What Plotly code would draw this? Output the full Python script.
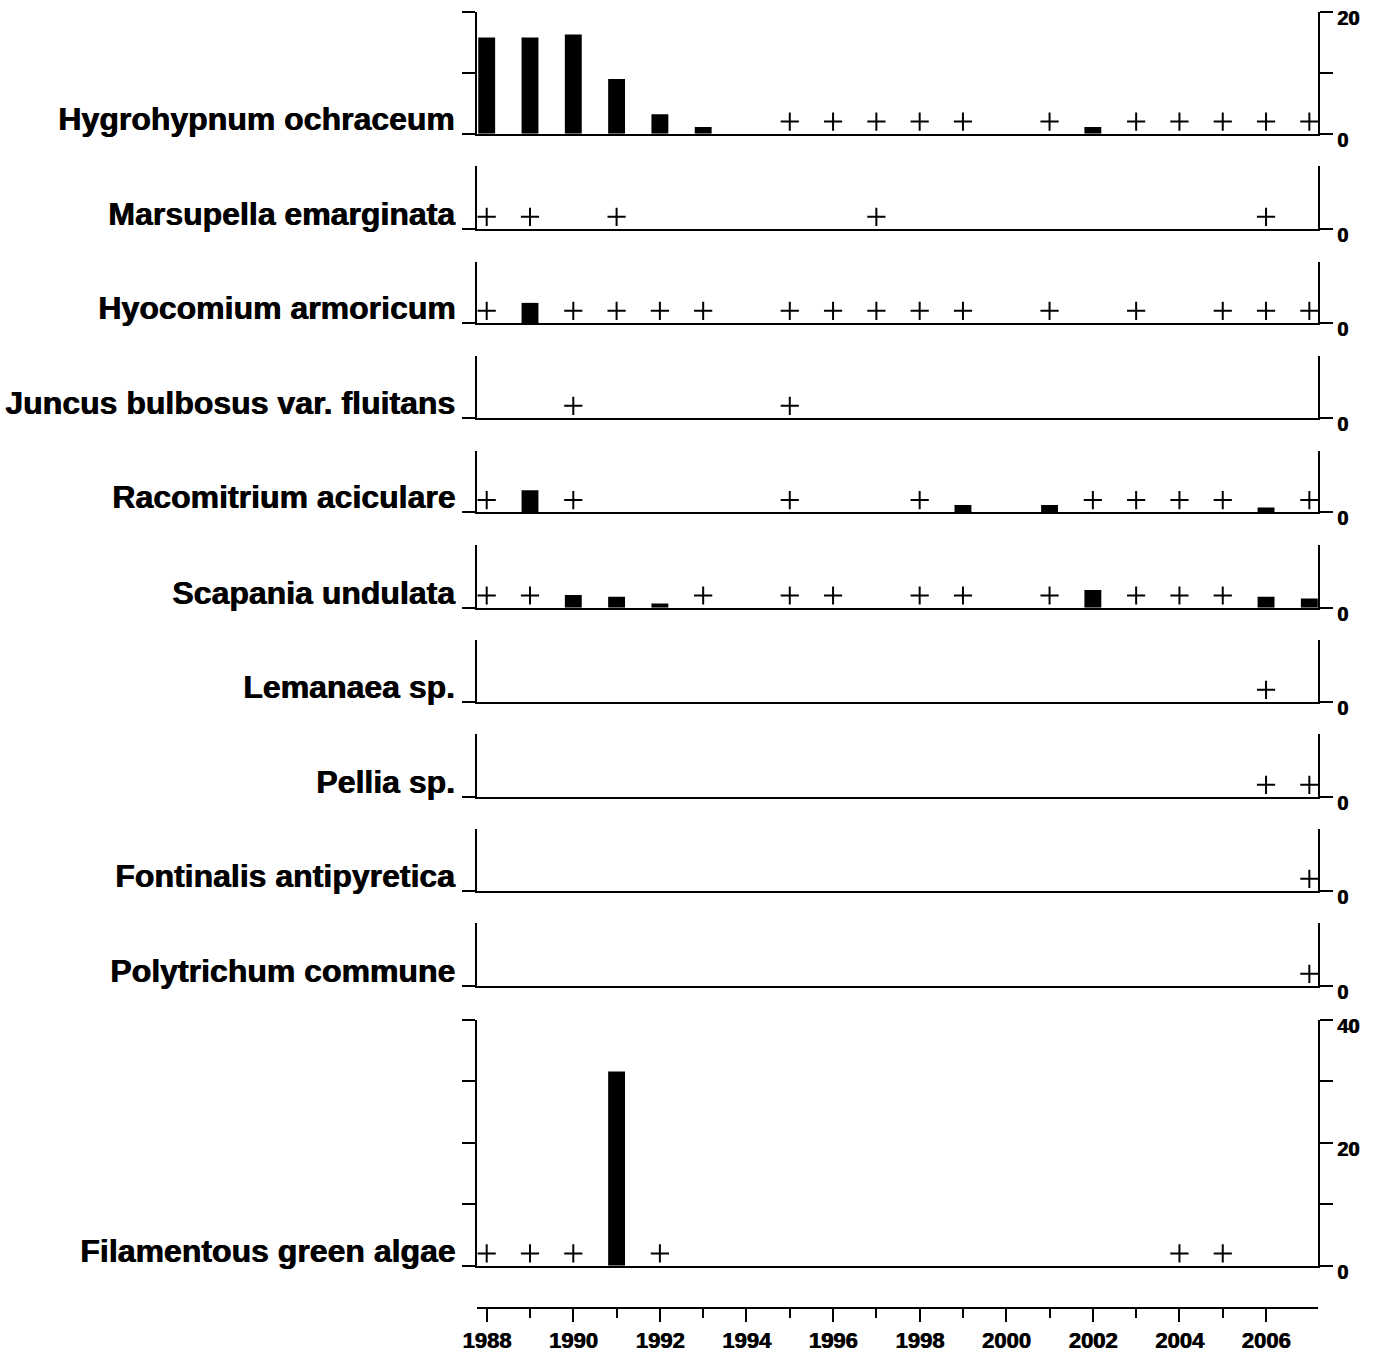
import plotly.graph_objects as go

# ---------------- data ----------------
species = [
    "Hygrohypnum ochraceum",
    "Marsupella emarginata",
    "Hyocomium armoricum",
    "Juncus bulbosus var. fluitans",
    "Racomitrium aciculare",
    "Scapania undulata",
    "Lemanaea sp.",
    "Pellia sp.",
    "Fontinalis antipyretica",
    "Polytrichum commune",
    "Filamentous green algae",
]

hygro_bar_years = [1988, 1989, 1990, 1991, 1992, 1993, 2002]
hygro_bar_vals = [15.8, 15.8, 16.3, 9.0, 3.2, 1.1, 1.1]
hygro_plus = [1995, 1996, 1997, 1998, 1999, 2001, 2003, 2004, 2005, 2006, 2007]

marsu_bar_years = []
marsu_bar_vals = []
marsu_plus = [1988, 1989, 1991, 1997, 2006]

hyoco_bar_years = [1989]
hyoco_bar_vals = [3.3]
hyoco_plus = [1988, 1990, 1991, 1992, 1993, 1995, 1996, 1997, 1998, 1999, 2001, 2003, 2005, 2006, 2007]

juncus_bar_years = []
juncus_bar_vals = []
juncus_plus = [1990, 1995]

racom_bar_years = [1989, 1999, 2001, 2006]
racom_bar_vals = [3.6, 1.2, 1.2, 0.8]
racom_plus = [1988, 1990, 1995, 1998, 2002, 2003, 2004, 2005, 2007]

scap_bar_years = [1990, 1991, 1992, 2002, 2006, 2007]
scap_bar_vals = [2.1, 1.8, 0.7, 2.9, 1.8, 1.5]
scap_plus = [1988, 1989, 1993, 1995, 1996, 1998, 1999, 2001, 2003, 2004, 2005]

leman_bar_years = []
leman_bar_vals = []
leman_plus = [2006]

pellia_bar_years = []
pellia_bar_vals = []
pellia_plus = [2006, 2007]

fontin_bar_years = []
fontin_bar_vals = []
fontin_plus = [2007]

polyt_bar_years = []
polyt_bar_vals = []
polyt_plus = [2007]

algae_bar_years = [1991]
algae_bar_vals = [31.6]
algae_plus = [1988, 1989, 1990, 1992, 2004, 2005]

year_ticks = [1988, 1990, 1992, 1994, 1996, 1998, 2000, 2002, 2004, 2006]
year_minor = [1989, 1991, 1993, 1995, 1997, 1999, 2001, 2003, 2005]

bar_years = [hygro_bar_years, marsu_bar_years, hyoco_bar_years, juncus_bar_years,
             racom_bar_years, scap_bar_years, leman_bar_years, pellia_bar_years,
             fontin_bar_years, polyt_bar_years, algae_bar_years]
bar_vals = [hygro_bar_vals, marsu_bar_vals, hyoco_bar_vals, juncus_bar_vals,
            racom_bar_vals, scap_bar_vals, leman_bar_vals, pellia_bar_vals,
            fontin_bar_vals, polyt_bar_vals, algae_bar_vals]
plus_years = [hygro_plus, marsu_plus, hyoco_plus, juncus_plus, racom_plus, scap_plus,
              leman_plus, pellia_plus, fontin_plus, polyt_plus, algae_plus]

# ---------------- layout geometry ----------------
W, H = 1380, 1353
X0, X1 = 477, 1318
XR = [1987.776, 2007.2]
PLUS_LEVEL = 2.0  # level at which presence "+" symbols are drawn
panels_px = [(12, 133.7), (166, 229), (262, 323), (356, 418), (451, 512.3),
             (545, 607.7), (640, 702), (734, 797), (829, 891), (923, 986),
             (1020, 1265.7)]

FONT = "Liberation Sans, Arial, sans-serif"
HEAVY = "0.8px 0 0 #000"


def py(p):
    return 1 - p / H


fig = go.Figure()
layout = dict(
    width=W, height=H,
    margin=dict(l=0, r=0, t=0, b=0, pad=0, autoexpand=False),
    paper_bgcolor="white", plot_bgcolor="white",
    showlegend=False,
    font=dict(family=FONT, color="black"),
)
annotations = []

for i, name in enumerate(species):
    n = i + 1
    xs = "x" if n == 1 else f"x{n}"
    ys = "y" if n == 1 else f"y{n}"
    xk = "xaxis" if n == 1 else f"xaxis{n}"
    yk = "yaxis" if n == 1 else f"yaxis{n}"
    top, base = panels_px[i]

    if i == 0:
        yr = [0, 20]
        tv, tt = [0, 10, 20], ["0", "", "20"]
    elif i == len(species) - 1:
        yr = [0, 40]
        tv, tt = [0, 10, 20, 30, 40], ["0", "", "20", "", "40"]
    else:
        yr = [0, (base - top) / 6.1]
        tv, tt = [0], ["0"]

    fig.add_trace(go.Bar(
        x=bar_years[i], y=bar_vals[i], width=0.39,
        marker=dict(color="black", line=dict(width=0)),
        xaxis=xs, yaxis=ys, hoverinfo="x+y",
    ))
    fig.add_trace(go.Scatter(
        x=plus_years[i], y=[PLUS_LEVEL] * len(plus_years[i]), mode="markers",
        marker=dict(symbol="cross-thin", size=13, color="black",
                    line=dict(width=2, color="black")),
        xaxis=xs, yaxis=ys, hoverinfo="x",
    ))

    layout[xk] = dict(
        domain=[X0 / W, X1 / W], range=XR, anchor=ys,
        showline=True, linecolor="black", linewidth=2,
        ticks="", showticklabels=False, showgrid=False, zeroline=False,
        fixedrange=True, automargin=False,
    )
    layout[yk] = dict(
        domain=[py(base), py(top)], range=yr, anchor=xs, side="right",
        showline=True, linecolor="black", linewidth=2, mirror="ticks",
        ticks="outside", ticklen=13, tickwidth=2, tickcolor="black",
        tickmode="array", tickvals=tv, ticktext=tt,
        tickfont=dict(family=FONT, size=20, color="black", weight="bold",
                      shadow=HEAVY),
        ticklabelshift=6, ticklabeloverflow="allow",
        showgrid=False, zeroline=False, fixedrange=True, automargin=False,
    )
    annotations.append(dict(
        text=name, xref="paper", yref="paper",
        x=457 / W, y=py(base - 15), xanchor="right", yanchor="middle",
        showarrow=False,
        font=dict(family=FONT, size=32, color="black", weight="bold",
                  shadow=HEAVY),
    ))

# bottom year axis
nb = len(species) + 1
fig.add_trace(go.Scatter(x=[1990], y=[0], mode="markers", marker=dict(opacity=0),
                         xaxis=f"x{nb}", yaxis=f"y{nb}", hoverinfo="skip"))
layout[f"xaxis{nb}"] = dict(
    domain=[X0 / W, X1 / W], range=XR, anchor=f"y{nb}",
    showline=True, linecolor="black", linewidth=2,
    ticks="outside", ticklen=13, tickwidth=2, tickcolor="black",
    tickmode="array", tickvals=year_ticks, ticktext=[str(y) for y in year_ticks],
    minor=dict(tickmode="array", tickvals=year_minor, ticks="outside",
               ticklen=9, tickwidth=2, tickcolor="black", showgrid=False),
    tickfont=dict(family=FONT, size=22, color="black", weight="bold",
                  shadow=HEAVY),
    showgrid=False, zeroline=False, fixedrange=True, automargin=False,
)
layout[f"yaxis{nb}"] = dict(
    domain=[py(1307), py(1300)], range=[0, 1], anchor=f"x{nb}", visible=False,
    fixedrange=True,
)
layout["annotations"] = annotations
fig.update_layout(**layout)

fig.write_html(
    "out.html",
    config={"displayModeBar": False},
    post_script="document.body.style.margin='0';document.body.style.overflow='hidden';",
)
